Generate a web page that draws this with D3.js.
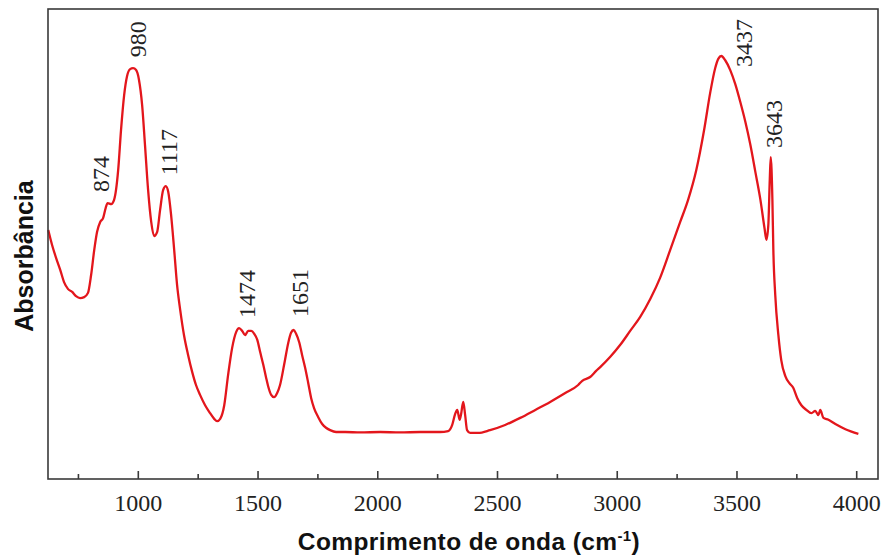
<!DOCTYPE html>
<html>
<head>
<meta charset="utf-8">
<script src="https://cdn.jsdelivr.net/npm/d3@7/dist/d3.min.js"></script>
<style>
  html, body { margin: 0; padding: 0; background: #fff; }
  svg { display: block; }
</style>
</head>
<body>
<svg id="chart" width="884" height="555"></svg>
<script>
// FTIR spectrum: wavenumber (cm-1) and absorbance (a.u.)
const wavenumber = [
  626, 642, 659, 676, 692, 709, 726, 742, 759, 776, 792, 805, 818, 830, 843, 855, 866, 874, 889, 901,
  918, 930, 943, 955, 968, 980, 993, 1005, 1018, 1030, 1043, 1056, 1068, 1081, 1093, 1106, 1117, 1127,
  1139, 1152, 1164, 1177, 1193, 1210, 1227, 1243, 1260, 1281, 1302, 1319, 1331, 1344, 1361, 1377, 1394,
  1411, 1423, 1436, 1448, 1461, 1474, 1486, 1499, 1511, 1524, 1536, 1544, 1557, 1569, 1582, 1594, 1611,
  1628, 1640, 1651, 1661, 1674, 1686, 1699, 1711, 1724, 1736, 1753, 1770, 1786, 1803, 1828, 1866, 1929,
  2012, 2095, 2179, 2262, 2296, 2313, 2325, 2334, 2344, 2350, 2359, 2367, 2375, 2388, 2421, 2471, 2534,
  2597, 2660, 2722, 2785, 2839, 2856, 2889, 2914, 2931, 2973, 3014, 3056, 3098, 3140, 3181, 3223, 3265,
  3298, 3332, 3365, 3390, 3411, 3424, 3437, 3453, 3474, 3495, 3516, 3537, 3558, 3579, 3600, 3617, 3625,
  3633, 3639, 3643, 3650, 3654, 3662, 3675, 3687, 3704, 3721, 3737, 3754, 3771, 3792, 3813, 3829, 3842,
  3850, 3863, 3884, 3913, 3955, 4009
];
const absorbance = [
  0.530, 0.498, 0.470, 0.445, 0.419, 0.404, 0.398, 0.389, 0.385, 0.387, 0.396, 0.434, 0.487, 0.526, 0.547, 0.555, 0.577, 0.587, 0.585, 0.594,
  0.657, 0.743, 0.817, 0.857, 0.872, 0.874, 0.870, 0.849, 0.796, 0.711, 0.615, 0.547, 0.517, 0.526, 0.572, 0.615, 0.623, 0.611,
  0.562, 0.487, 0.413, 0.360, 0.306, 0.264, 0.228, 0.200, 0.179, 0.157, 0.140, 0.128, 0.123, 0.128, 0.157, 0.221, 0.279,
  0.313, 0.321, 0.315, 0.306, 0.315, 0.315, 0.309, 0.296, 0.270, 0.243, 0.215, 0.198, 0.179, 0.174, 0.183, 0.200, 0.243,
  0.289, 0.311, 0.317, 0.309, 0.291, 0.264, 0.236, 0.206, 0.172, 0.151, 0.132, 0.117, 0.109, 0.104, 0.100, 0.100, 0.099,
  0.100, 0.099, 0.100, 0.100, 0.102, 0.115, 0.138, 0.147, 0.126, 0.138, 0.164, 0.136, 0.104, 0.098, 0.098, 0.104, 0.115,
  0.130, 0.147, 0.164, 0.183, 0.200, 0.209, 0.217, 0.230, 0.238, 0.260, 0.285, 0.315, 0.345, 0.383, 0.428, 0.487, 0.547,
  0.594, 0.657, 0.743, 0.821, 0.874, 0.894, 0.900, 0.891, 0.870, 0.840, 0.802, 0.760, 0.711, 0.653, 0.594, 0.534, 0.509,
  0.540, 0.636, 0.685, 0.594, 0.487, 0.391, 0.306, 0.253, 0.219, 0.204, 0.194, 0.172, 0.157, 0.147, 0.140, 0.145, 0.136,
  0.147, 0.130, 0.126, 0.117, 0.106, 0.096
];

// Annotated band positions (cm-1)
const peakLabels = ["874", "980", "1117", "1474", "1651", "3437", "3643"];
// Label nudges away from the curve, in pixels [dx, dy]
const labelNudge = [[1, -11], [13, -11], [11, -11], [4, -13], [14, -13], [31, 11], [11, -9]];

const majorTicks = [1000, 1500, 2000, 2500, 3000, 3500, 4000];
const minorTicks = [750, 1250, 1750, 2250, 2750, 3250, 3750];

const spectrum = wavenumber.map((w, i) => ({ w, a: absorbance[i] }));

const svg = d3.select("#chart");
const m = { left: 48, top: 9, right: 878, bottom: 479 };

const x = d3.scaleLinear().domain([625, 4091]).range([m.left, m.right]);
const y = d3.scaleLinear().domain([0, 1]).range([m.bottom, m.top]);

const red = "#e3161c";
const frame = "#3a3a3a";

// spectrum line
const line = d3.line()
  .x(d => x(d.w))
  .y(d => y(d.a))
  .curve(d3.curveMonotoneX);

svg.append("path")
  .datum(spectrum)
  .attr("fill", "none")
  .attr("stroke", red)
  .attr("stroke-width", 2.3)
  .attr("stroke-linejoin", "round")
  .attr("d", line);

// frame
svg.append("rect")
  .attr("x", m.left).attr("y", m.top)
  .attr("width", m.right - m.left).attr("height", m.bottom - m.top)
  .attr("fill", "none")
  .attr("stroke", frame)
  .attr("stroke-width", 1.6);

// bottom axis with inward ticks
const axisG = svg.append("g").attr("transform", `translate(0,${m.bottom})`);
axisG.call(d3.axisBottom(x).tickValues(majorTicks).tickSizeInner(-8).tickSizeOuter(0).tickPadding(0).tickFormat(d3.format("d")));
axisG.select(".domain").remove();
axisG.selectAll(".tick line").attr("stroke", frame).attr("stroke-width", 1.6);
axisG.selectAll(".tick text")
  .attr("y", 32)
  .attr("dy", null)
  .attr("fill", "#222")
  .style("font-family", "'Liberation Serif', 'Times New Roman', serif")
  .style("font-size", "24px");

const minorG = svg.append("g").attr("transform", `translate(0,${m.bottom})`);
minorG.call(d3.axisBottom(x).tickValues(minorTicks).tickSizeInner(-5).tickSizeOuter(0).tickFormat(""));
minorG.select(".domain").remove();
minorG.selectAll(".tick line").attr("stroke", frame).attr("stroke-width", 1.6);

// peak annotations
const lookup = new Map(spectrum.map(d => [d.w, d.a]));
peakLabels.forEach((lab, i) => {
  const w = +lab;
  const a = lookup.get(w);
  const px = x(w) + labelNudge[i][0];
  const py = y(a) + labelNudge[i][1];
  svg.append("text")
    .attr("transform", `translate(${px},${py}) rotate(-90)`)
    .attr("text-anchor", "start")
    .attr("fill", "#222")
    .style("font-family", "'Liberation Serif', 'Times New Roman', serif")
    .style("font-size", "24px")
    .text(lab);
});

// axis titles
const xt = svg.append("text")
  .attr("x", 469).attr("y", 550)
  .attr("text-anchor", "middle")
  .attr("fill", "#111")
  .style("font-family", "'Liberation Sans', Arial, sans-serif")
  .style("font-weight", "bold")
  .style("font-size", "24.5px")
  .style("letter-spacing", "0.4px");
xt.append("tspan").text("Comprimento de onda (cm");
xt.append("tspan").attr("dy", -9).style("font-size", "15px").text("-1");
xt.append("tspan").attr("dy", 9).text(")");

svg.append("text")
  .attr("transform", "translate(33,256) rotate(-90)")
  .attr("text-anchor", "middle")
  .attr("fill", "#111")
  .style("font-family", "'Liberation Sans', Arial, sans-serif")
  .style("font-weight", "bold")
  .style("font-size", "25px")
  .text("Absorbância");
</script>
</body>
</html>
